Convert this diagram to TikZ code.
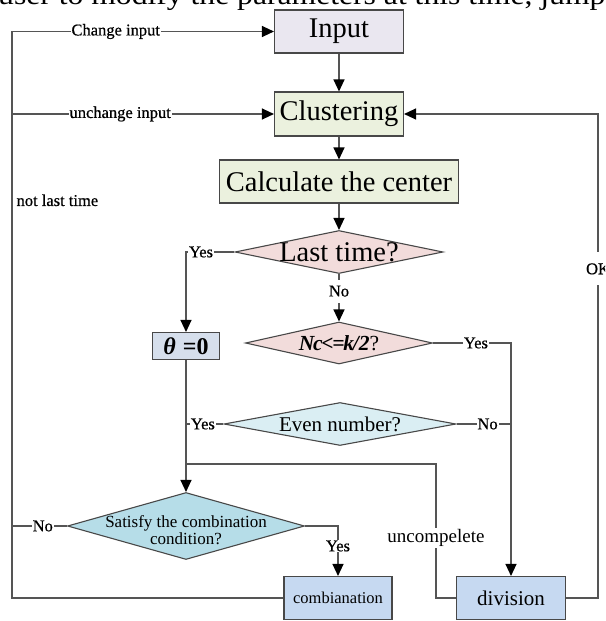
\documentclass[tikz,border=0pt]{standalone}
\usepackage{fontspec}
\setmainfont{Liberation Serif}
\newfontfamily\lblfont[FakeBold=0.6]{Liberation Serif}
\usetikzlibrary{arrows.meta,shapes.geometric}
\newcommand{\fsz}[1]{\fontsize{#1}{#1}\selectfont}
\definecolor{inputc}{HTML}{EAE7F0}
\definecolor{greenc}{HTML}{EBF1DE}
\definecolor{pinkc}{HTML}{F2DCDB}
\definecolor{thetac}{HTML}{D6DFEC}
\definecolor{evenc}{HTML}{DAEEF3}
\definecolor{satc}{HTML}{B6DDE8}
\definecolor{blockc}{HTML}{C6D9F1}
\definecolor{linec}{HTML}{555555}
\definecolor{bordc}{HTML}{484848}
\begin{document}
\begin{tikzpicture}[x=1pt,y=-1pt,
  line/.style={draw=linec, line width=1.2pt},
  arr/.style={line, -{Triangle[length=12pt,width=11pt,color=black]}},
  box/.style={draw=bordc, line width=1.1pt, inner sep=0pt, align=center},
  dia/.style={diamond, draw=bordc, line width=1.1pt, inner sep=0pt},
  lbl/.style={fill=white, inner sep=1pt, font=\lblfont\fsz{16.5}},
]
\useasboundingbox (0,0) rectangle (605,621);
\clip (0,0) rectangle (605,621);

% clipped running text at the top
\node[anchor=base west, inner sep=0pt, font=\fsz{28}] (toptext) at (-2,5)
  {\scalebox{1.13}[1]{user to modify the parameters at this time, jump}};

% nodes
\node[box, fill=inputc, minimum width=129pt, minimum height=43pt, font=\fsz{28.5}] (input) at (339,31.5) {Input};
\node[box, fill=greenc, minimum width=129pt, minimum height=44pt, font=\fsz{28.5}] (clust) at (339,114) {Clustering};
\node[box, fill=greenc, minimum width=239pt, minimum height=43pt, font=\fsz{28.5}] (calc) at (339,181.5) {Calculate the center};
\node[dia, fill=pinkc, minimum width=208pt, minimum height=43pt,
  label={[font=\fsz{28.5}]center:Last time?}] (last) at (339,252) {};
\node[dia, fill=pinkc, minimum width=187pt, minimum height=42pt,
  label={[font=\fsz{21.5}]center:{\bfseries\itshape N\kern-0.06em c\kern-0.06em<\kern-0.06em=\kern-0.06em k\kern-0.06em/2}?}] (nc) at (339,343) {};
\node[box, fill=thetac, minimum width=67pt, minimum height=27pt, font=\fsz{24}] (theta) at (186,346)
  {{\bfseries\itshape θ}\hspace{0.3em}{\bfseries =0}};
\node[dia, fill=evenc, minimum width=232pt, minimum height=43pt,
  label={[font=\fsz{21}]center:Even number?}] (even) at (340,424) {};
\node[dia, fill=satc, minimum width=237pt, minimum height=67pt,
  label={[font=\fsz{17}, align=center, yshift=-4pt]center:Satisfy the combination\\condition?}] (sat) at (186,526) {};
\node[box, fill=blockc, minimum width=108pt, minimum height=43pt, font=\fsz{16.5}] (comb) at (338,598) {combianation};
\node[box, fill=blockc, minimum width=109pt, minimum height=43pt, font=\fsz{21}] (div) at (511,598) {division};

\coordinate (lb) at (12,598);
\coordinate (lt) at (12,31.5);
\coordinate (lm) at (12,114);
\coordinate (uj) at (436,464);
\coordinate (rk) at (598,114);

% main chain
\draw[arr] (input) -- (clust);
\draw[arr] (clust) -- (calc);
\draw[arr] (calc) -- (last);
\draw[arr] (last) -- node[lbl, pos=0.36, inner ysep=6pt]{No} (nc);
\draw[arr] (last.west) -- node[lbl, pos=0.69]{Yes} (theta.north |- last.west) -- (theta.north);
\draw[arr] (nc.east) -- node[lbl, pos=0.55]{Yes} (div.north |- nc.east) -- (div.north);
\draw[arr] (theta.south) -- (sat.north);
\draw[line] (even.west) -- node[lbl, pos=0.55]{Yes} (theta.south |- even.west);
\draw[line] (even.east) -- node[lbl, pos=0.57]{No} (div.north |- even.east);
\draw[line] (div.west) -| node[lbl, pos=0.724, font=\fsz{19}]{uncompelete} (uj) -- (uj -| theta.south);
\draw[arr] (sat.east) -| node[lbl, pos=0.70]{Yes} (comb.north);
\draw[line] (sat.west) -- node[lbl, pos=0.44]{No} (sat.west -| lt);

% left loop
\draw[arr] (comb.west) -- (lb) -- node[pos=0.702, anchor=west, inner xsep=4pt, font=\lblfont\fsz{16.5}]{not last time} (lt)
  -- node[lbl, pos=0.396]{Change input} (input.west);
\draw[arr] (lm) -- node[lbl, pos=0.413]{unchange input} (clust.west);

% right loop
\draw[arr] (div.east) -| node[lbl, pos=0.84, inner ysep=11pt]{OK} (rk) -- (clust.east);
\end{tikzpicture}
\end{document}
